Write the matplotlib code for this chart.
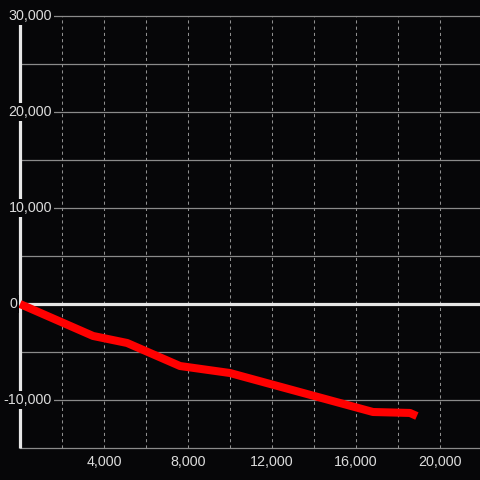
import matplotlib
matplotlib.use("Agg")
import matplotlib.pyplot as plt
from matplotlib.transforms import blended_transform_factory

# data
x_vals = [0, 3480, 5100, 7620, 10000, 16810, 18570, 18900]
y_vals = [0, -3330, -4060, -6460, -7190, -11250, -11350, -11670]
x_ticks = [4000, 8000, 12000, 16000, 20000]
x_minor = [2000, 6000, 10000, 14000, 18000]
y_ticks = [30000, 20000, 10000, 0, -10000]
y_grid = [30000, 25000, 20000, 15000, 10000, 5000, 0, -5000, -10000, -15000]

BG = "#060608"
TXT = "#dcdcdc"
GRID = "#8a8a8a"

fig = plt.figure(figsize=(4.8, 4.8), dpi=100, facecolor=BG)
ax = fig.add_axes([0, 0, 1, 1])
ax.set_facecolor(BG)
for s in ax.spines.values():
    s.set_visible(False)
ax.set_xticks([])
ax.set_yticks([])

px_x = 2000 / 42.0
px_y = 10000 / 96.0
ax.set_xlim(-20 * px_x, -20 * px_x + 480 * px_x)
ax.set_ylim(30000 + 16 * px_y - 480 * px_y, 30000 + 16 * px_y)

xr = ax.get_xlim()[1]
# horizontal gridlines
for g in y_grid:
    if g == 0:
        continue
    ax.plot([0, xr], [g, g], color=GRID, lw=0.9, zorder=1)
# vertical dashed gridlines
for v in sorted(x_ticks + x_minor):
    ax.plot([v, v], [-15000, 30000], color="#8f8f8f", lw=0.75,
            dashes=(3, 3), zorder=1)

# zero line and left spine
ax.plot([0, xr], [0, 0], color="#e6e6e6", lw=2.3, zorder=2, solid_capstyle="butt")
ax.plot([0, 0], [-15000, 30000], color="#e6e6e6", lw=2.3, zorder=2, solid_capstyle="butt")

# data line
ax.plot(x_vals, y_vals, color="#ff0000", lw=5.8, zorder=3,
        solid_capstyle="butt", solid_joinstyle="round")

trans = blended_transform_factory(ax.transAxes, ax.transData)
font = dict(family=["Liberation Sans", "DejaVu Sans"], size=10.3, color=TXT)
for t in y_ticks:
    lab = f"{t:,}"
    xpos = 52 / 480 if t != 0 else 17 / 480
    ax.text(xpos, t, lab, transform=trans, ha="right", va="center", zorder=5,
            bbox=dict(facecolor=BG, edgecolor="none", pad=1.5), **font)

trans2 = blended_transform_factory(ax.transData, ax.transAxes)
for t in x_ticks:
    ax.text(t, 1 - 462 / 480, f"{t:,}", transform=trans2, ha="center",
            va="center", zorder=5, **font)

fig.savefig("out.png", dpi=100, facecolor=BG)
